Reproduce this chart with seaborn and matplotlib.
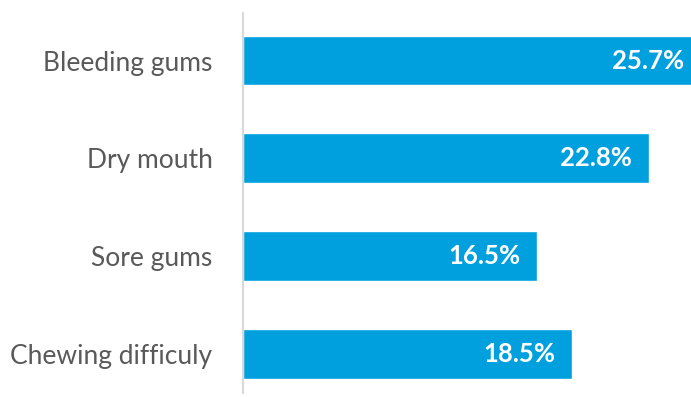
import matplotlib
matplotlib.use("Agg")
import matplotlib.pyplot as plt
import seaborn as sns
import pandas as pd

symptoms = ["Bleeding gums", "Dry mouth", "Sore gums", "Chewing difficuly"]
percent = [25.7, 22.8, 16.5, 18.5]

df = pd.DataFrame({"symptom": symptoms, "percent": percent})

sns.set_theme(style="white")
plt.rcParams["font.family"] = ["Lato", "DejaVu Sans"]

W, H = 691, 397
fig = plt.figure(figsize=(W / 100, H / 100), dpi=100)
ax = fig.add_axes([243 / W, 4 / H, 1 - 243 / W, 380 / H])

sns.barplot(data=df, x="percent", y="symptom", orient="h", color="#00A0DF",
            saturation=1, width=0.51, ax=ax)

ax.set_xlim(0, (W - 243) / 17.8)
ax.set_ylim(3.40, -0.486)

for i, v in enumerate(percent):
    ax.annotate(f"{v}%", xy=(v, i), xytext=(-12, 0), textcoords="offset points",
                ha="right", va="center", color="white", fontsize=18.5,
                fontweight="bold", annotation_clip=False)

for s in ["top", "right", "bottom"]:
    ax.spines[s].set_visible(False)
ax.spines["left"].set_color("#D9D9D9")
ax.spines["left"].set_linewidth(1.5)
ax.set_xticks([])
ax.set_xlabel("")
ax.set_ylabel("")
ax.tick_params(axis="y", length=0, pad=22, labelsize=19, labelcolor="#595959")

fig.savefig("out.png", dpi=100)
